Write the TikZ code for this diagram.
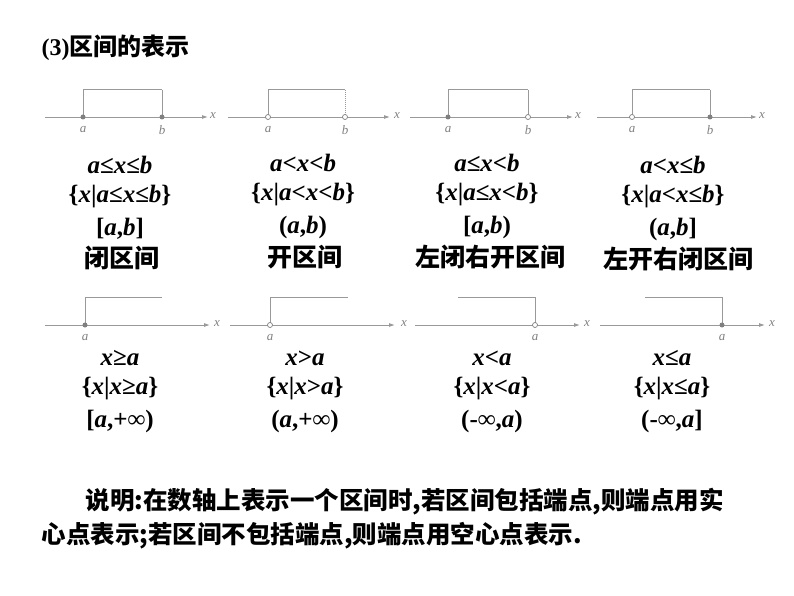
\documentclass[tikz,border=0pt]{standalone}
\usepackage{fontspec}
\setmainfont{Liberation Serif}
\newfontfamily\cjk{Noto Sans CJK SC}
\begin{document}
\begin{tikzpicture}[x=1pt,y=-1pt,
  ax/.style={draw=gray!80,line width=0.9pt,-{Latex[length=6pt,width=4pt]}},
  bx/.style={draw=gray!80,line width=1pt},
  lab/.style={text=gray,font=\fontsize{13}{14}\selectfont\itshape},
  cl/.style={circle,fill=gray,inner sep=0pt,minimum size=5pt},
  op/.style={circle,draw=gray,fill=white,inner sep=0pt,minimum size=5pt,line width=0.7pt},
  m/.style={font=\fontsize{25}{27}\selectfont\bfseries},
  c/.style={font=\cjk\fontsize{25}{27}\selectfont\bfseries},
  cb/.style={font=\cjk\fontsize{24.5}{26}\selectfont\bfseries}]
\usetikzlibrary{arrows.meta}
\useasboundingbox (0,0) rectangle (794,596);
\node[anchor=west,font=\fontsize{24}{26}\selectfont\bfseries] (title) at (38,48) {(3)\cjk 区间的表示};
% row 1
\foreach \i/\s/\e/\a/\b/\ta/\tb/\xl in {1/45/208/83/162/cl/cl/213,2/228/390/268/345/op/op/397,3/410/573/448/528/cl/op/578,4/597/757/632/710/op/cl/762}{
  \coordinate (s\i) at (\s,117); \coordinate (e\i) at (\e,117);
  \draw[ax] (s\i) -- (e\i);
  \node[lab] (x\i) at (\xl,116) {x};
  \coordinate (ta\i) at (\a,90); \coordinate (tb\i) at (\b,90);
  \draw[bx] (\a,117) -- (ta\i) -- (tb\i);
  \ifnum\i=2 \draw[bx,densely dotted] (tb\i) -- (\b,117); \else \draw[bx] (tb\i) -- (\b,117); \fi
  \node[\ta] (pa\i) at (\a,117) {}; \node[\tb] (pb\i) at (\b,117) {};
  \node[lab] (la\i) at (\a,130) {a}; \node[lab] (lb\i) at (\b,130) {b};
}
% row 2
\foreach \i/\s/\e/\a/\o/\t/\xl in {5/45/210/85/162/cl/217,6/230/395/270/348/op/404,7/415/580/535/458/op/587,8/600/765/722/645/cl/772}{
  \coordinate (s\i) at (\s,325); \coordinate (e\i) at (\e,325);
  \draw[ax] (s\i) -- (e\i);
  \node[lab] (x\i) at (\xl,324) {x};
  \coordinate (t\i) at (\a,297); \coordinate (o\i) at (\o,297);
  \draw[bx] (\a,325) -- (t\i) -- (o\i);
  \node[\t] (pa\i) at (\a,325) {};
  \node[lab] (la\i) at (\a,338) {a};
}
% row1 texts
\node[m] (r1a) at (120,165) {\textit{a}≤\textit{x}≤\textit{b}};
\node[m] (r1b) at (120,197) {\{\textit{x}|\textit{a}≤\textit{x}≤\textit{b}\}};
\node[m] (r1c) at (120,229) {[\textit{a},\textit{b}]};
\node[c] (r1d) at (122,258) {闭区间};
\node[m] (r2a) at (303,163) {\textit{a}<\textit{x}<\textit{b}};
\node[m] (r2b) at (303,195) {\{\textit{x}|\textit{a}<\textit{x}<\textit{b}\}};
\node[m] (r2c) at (303,227) {(\textit{a},\textit{b})};
\node[c] (r2d) at (305,257) {开区间};
\node[m] (r3a) at (487,163) {\textit{a}≤\textit{x}<\textit{b}};
\node[m] (r3b) at (487,195) {\{\textit{x}|\textit{a}≤\textit{x}<\textit{b}\}};
\node[m] (r3c) at (487,227) {[\textit{a},\textit{b})};
\node[c] (r3d) at (490,257) {左闭右开区间};
\node[m] (r4a) at (673,165) {\textit{a}<\textit{x}≤\textit{b}};
\node[m] (r4b) at (673,197) {\{\textit{x}|\textit{a}<\textit{x}≤\textit{b}\}};
\node[m] (r4c) at (673,229) {(\textit{a},\textit{b}]};
\node[c] (r4d) at (678,259) {左开右闭区间};
% row2 texts
\node[m] (s1a) at (120,358) {\textit{x}≥\textit{a}};
\node[m] (s1b) at (120,389) {\{\textit{x}|\textit{x}≥\textit{a}\}};
\node[m] (s1c) at (120,421) {[\textit{a},+∞)};
\node[m] (s2a) at (305,358) {\textit{x}>\textit{a}};
\node[m] (s2b) at (305,389) {\{\textit{x}|\textit{x}>\textit{a}\}};
\node[m] (s2c) at (305,421) {(\textit{a},+∞)};
\node[m] (s3a) at (492,358) {\textit{x}<\textit{a}};
\node[m] (s3b) at (492,389) {\{\textit{x}|\textit{x}<\textit{a}\}};
\node[m] (s3c) at (492,421) {(-∞,\textit{a})};
\node[m] (s4a) at (672,358) {\textit{x}≤\textit{a}};
\node[m] (s4b) at (672,389) {\{\textit{x}|\textit{x}≤\textit{a}\}};
\node[m] (s4c) at (672,421) {(-∞,\textit{a}]};
% bottom text
\node[anchor=west,cb] (n1) at (82,502) {说明:在数轴上表示一个区间时,若区间包括端点,则端点用实};
\node[anchor=west,cb] (n2) at (38,536) {心点表示;若区间不包括端点,则端点用空心点表示.};
\end{tikzpicture}
\end{document}
